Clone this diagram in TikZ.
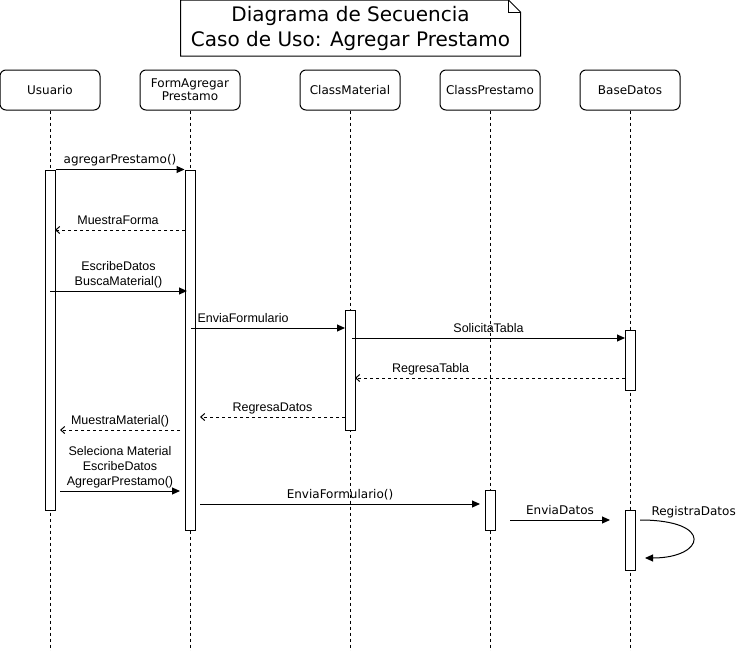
\documentclass[tikz,border=0pt]{standalone}
\usepackage{fontspec}
\setmainfont{DejaVu Sans}
\newfontfamily\arialfont{Liberation Sans}
\usetikzlibrary{arrows.meta}
\tikzset{
	title/.style = {shape=rectangle, align=center, minimum width=339pt, minimum height=55pt, inner sep=0pt, font=\fontsize{20}{25}\selectfont},
	obj/.style = {shape=rectangle, rounded corners=6pt, draw, align=center, minimum width=100pt, minimum height=40pt, inner sep=2pt, font=\fontsize{12}{13}\selectfont},
	act/.style = {shape=rectangle, draw, fill=white, minimum width=10pt, inner sep=0pt},
	life/.style = {dash pattern=on 3pt off 3pt},
	call/.style = {-{Triangle[length=8pt,width=7pt]}},
	ret/.style = {dash pattern=on 3pt off 3pt, -{Straight Barb[length=4pt,width=7pt]}},
	lbl/.style = {anchor=base, yshift=6pt, inner sep=0pt, align=center, font=\arialfont\fontsize{12.5}{15}\selectfont},
	lblv/.style = {anchor=base, yshift=6pt, inner sep=0pt, align=center, font=\fontsize{12}{15}\selectfont},
}
\begin{document}
\begin{tikzpicture}[x=1pt, y=-1pt, line width=1pt]
	\useasboundingbox (0,0) rectangle (740,651);

	\node[title] (title) at (350.5,28) {Diagrama de Secuencia\\Caso de Uso: Agregar Prestamo};
	\draw (title.north west) -- ([xshift=-12pt]title.north east) -- ([yshift=-12pt]title.north east) -- (title.south east) -- (title.south west) -- cycle;
	\draw ([xshift=-12pt]title.north east) -- ([xshift=-12pt,yshift=-12pt]title.north east) -- ([yshift=-12pt]title.north east);

	\node[obj] (usuario) at (50,90) {Usuario};
	\node[obj] (form) at (190,90) {FormAgregar\\Prestamo};
	\node[obj] (material) at (350,90) {ClassMaterial};
	\node[obj] (prestamo) at (490,90) {ClassPrestamo};
	\node[obj] (base) at (630,90) {BaseDatos};

	\foreach \o in {usuario,form,material,prestamo,base} {
		\coordinate (\o-end) at (\o.south |- 0,651);
		\draw[life] (\o.south) -- (\o-end);
	}

	\node[act, minimum height=340pt] (u-act) at (50,340) {};
	\node[act, minimum height=360pt] (f-act) at (190,350) {};
	\node[act, minimum height=120pt] (m-act) at (350,370) {};
	\node[act, minimum height=60pt] (b-act) at (630,360) {};
	\node[act, minimum height=40pt] (p-act) at (490,510) {};
	\node[act, minimum height=60pt] (b-act2) at (630,540) {};

	\coordinate (forma-a) at (185,230);
	\coordinate (forma-b) at (55,230);
	\coordinate (busca-a) at (50,291);
	\coordinate (busca-b) at (187,291);
	\coordinate (envia-a) at (191,328);
	\coordinate (envia-b) at (345,328);
	\coordinate (tabla-a) at (352,338);
	\coordinate (tabla-b) at (625,338);
	\coordinate (rtabla-a) at (625,378);
	\coordinate (rtabla-b) at (355,378);
	\coordinate (rdatos-a) at (345,417);
	\coordinate (rdatos-b) at (200,417);
	\coordinate (mmat-a) at (180,430);
	\coordinate (mmat-b) at (60,430);
	\coordinate (sel-a) at (60,491);
	\coordinate (sel-b) at (180,491);
	\coordinate (envia2-a) at (200,504);
	\coordinate (envia2-b) at (480,504);
	\coordinate (edatos-a) at (510,520);
	\coordinate (edatos-b) at (610,520);
	\coordinate (reg-a) at (640,520);
	\coordinate (reg-b) at (645,558);

	\draw[call] (u-act.north east) -- node[lblv] {agregarPrestamo()} (f-act.north west);
	\draw[ret] (forma-a) -- node[lbl, xshift=-2pt] {MuestraForma} (forma-b);
	\draw[call] (busca-a) -- node[lbl] {EscribeDatos\\BuscaMaterial()} (busca-b);
	\draw[call] (envia-a) -- node[lbl, pos=0, anchor=base west, xshift=6pt] {EnviaFormulario} (envia-b);
	\draw[call] (tabla-a) -- node[lbl] {SolicitaTabla} (tabla-b);
	\draw[ret] (rtabla-a) -- node[lbl, pos=0.72] {RegresaTabla} (rtabla-b);
	\draw[ret] (rdatos-a) -- node[lbl] {RegresaDatos} (rdatos-b);
	\draw[ret] (mmat-a) -- node[lbl] {MuestraMaterial()} (mmat-b);
	\draw[call] (sel-a) -- node[lbl] {Seleciona Material\\EscribeDatos\\AgregarPrestamo()} (sel-b);
	\draw[call] (envia2-a) -- node[lblv] {EnviaFormulario()} (envia2-b);
	\draw[call] (edatos-a) -- node[lblv] {EnviaDatos} (edatos-b);
	\draw[call] (reg-a) .. controls (715,520) and (705,558) .. node[lblv, pos=0, anchor=base west, yshift=-1pt, xshift=11pt] {RegistraDatos} (reg-b);
\end{tikzpicture}
\end{document}
